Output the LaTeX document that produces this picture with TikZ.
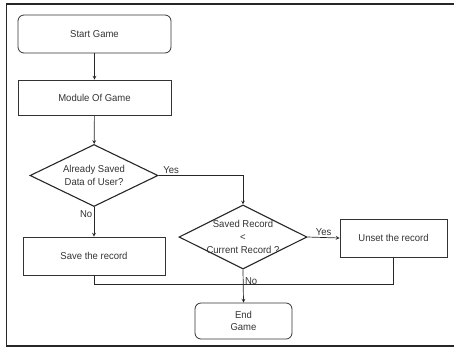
\documentclass[tikz,border=0pt]{standalone}
\usepackage{fontspec}
\setmainfont{Liberation Sans}[FakeStretch=0.95]
\usetikzlibrary{shapes.geometric,positioning}
\tikzset{
box/.style={
    draw=black!80, line width=0.8pt,
    minimum width=153pt, minimum height=38pt,
    font=\fontsize{10}{12}\selectfont, text=black!80,
    align=center
},
term/.style={
    box, rounded corners=6pt
},
decision/.style={
    diamond, draw=black!85, line width=1.1pt,
    minimum width=128pt, minimum height=62pt, inner sep=0pt
},
dtext/.style={
    font=\fontsize{10}{13}\selectfont, text=black!80, align=center
},
flow/.style={draw=black!85, line width=0.7pt},
tag/.style={font=\fontsize{10}{12}\selectfont, text=black!80, inner sep=1.5pt}
}

\begin{document}
\begin{tikzpicture}[x=1pt,y=-1pt]
\useasboundingbox (0,0) rectangle (454,349);
% frame
\draw[line width=1.6pt, black!85] (454,4) -- (6.5,4) -- (6.5,346) -- (454,346);
% left column
\node[term] (start) at (94.5,34) {Start Game};
\node[box, minimum height=35pt] (module) at (94.5,97.5) {Module Of Game};
\node[decision, label={[dtext]center:Already Saved\\Data of User?}] (saved) at (94,175.5) {};
\node[box, minimum width=142pt] (save) at (94,256) {Save the record};
% right part
\node[decision, minimum height=64pt, label={[dtext]center:Saved Record\\<\\Current Record ?}] (compare) at (243,237) {};
\node[box, minimum width=107pt] (unset) at (393.5,238) {Unset the record};
\node[term, minimum width=97pt, minimum height=36pt] (end) at (243.5,321) {End\\Game};
\coordinate (join) at (243,284);

\draw[flow,-stealth] (start) -- (module);
\draw[flow,-stealth] (module) -- (saved);
\draw[flow,-stealth] (saved.east) -- (saved.east -| compare.north) node[tag,pos=0.15,above] (yes1) {Yes} -- (compare.north);
\draw[flow,-stealth] (saved.south) -- node[tag,pos=0.25,left] (no1) {No} (save.north);
\draw[flow,-stealth] (compare.east) -- node[tag,above] (yes2) {Yes} (unset.west);
\draw[flow,-stealth] (compare.south) -- node[tag,pos=0.35,right] (no2) {No} (end.north);
\draw[flow] (save.south) |- (join) -| (unset.south);

\end{tikzpicture}
\end{document}
